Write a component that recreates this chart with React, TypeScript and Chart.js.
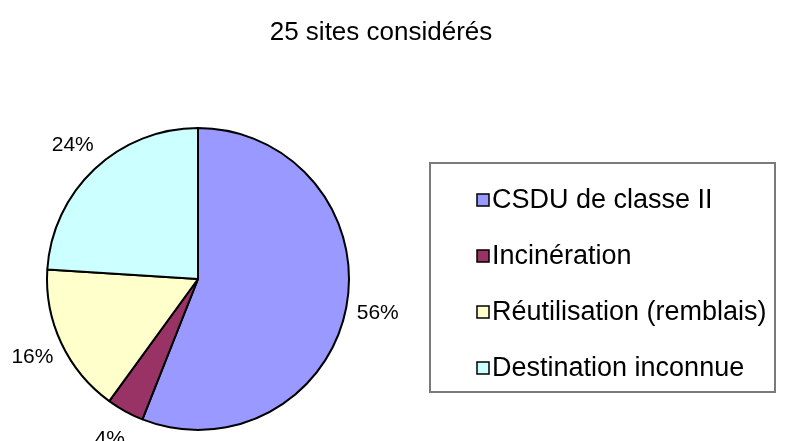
import React, { useEffect, useRef } from "react";
import { Chart, registerables } from "chart.js";

Chart.register(...registerables);

const TITLE = "25 sites considérés";
const CATEGORIES = [
  "CSDU de classe II",
  "Incinération",
  "Réutilisation (remblais)",
  "Destination inconnue",
];
const VALUES = [56, 4, 16, 24];
const COLORS = ["#9999FF", "#993366", "#FFFFCC", "#CCFFFF"];

const FONT = "'Liberation Sans', Arial, sans-serif";

const overlayPlugin = {
  id: "overlay",
  afterDraw(chart: any) {
    const ctx = chart.ctx as CanvasRenderingContext2D;
    ctx.save();
    // Title
    ctx.fillStyle = "#000";
    ctx.textAlign = "center";
    ctx.textBaseline = "middle";
    ctx.font = `26px ${FONT}`;
    ctx.fillText(TITLE, 381, 33);

    // Percentage labels
    const meta = chart.getDatasetMeta(0);
    const total = VALUES.reduce((a, b) => a + b, 0);
    ctx.font = `21px ${FONT}`;
    meta.data.forEach((arc: any, i: number) => {
      const p = arc.getProps(["x", "y", "startAngle", "endAngle", "outerRadius"], true);
      const mid = (p.startAngle + p.endAngle) / 2;
      const d = p.outerRadius + 32;
      const tx = p.x + Math.cos(mid) * d;
      const ty = p.y + Math.sin(mid) * d;
      const pct = Math.round((VALUES[i] / total) * 100) + "%";
      ctx.fillText(pct, tx, ty);
    });

    // Legend box
    const bx = 430, by = 163, bw = 345, bh = 229;
    ctx.strokeStyle = "#7a7a7a";
    ctx.lineWidth = 2;
    ctx.strokeRect(bx, by, bw, bh);
    ctx.textAlign = "left";
    ctx.font = `27px ${FONT}`;
    CATEGORIES.forEach((c, i) => {
      const cy = 200 + i * 56;
      ctx.fillStyle = COLORS[i];
      ctx.fillRect(477, cy - 6, 12, 12);
      ctx.strokeStyle = "#000";
      ctx.lineWidth = 1.5;
      ctx.strokeRect(477, cy - 6, 12, 12);
      ctx.fillStyle = "#000";
      ctx.fillText(c, 492, cy + 1);
    });
    ctx.restore();
  },
};

export default function App() {
  const ref = useRef<HTMLCanvasElement>(null);
  useEffect(() => {
    if (!ref.current) return;
    const chart = new Chart(ref.current, {
      type: "pie",
      data: {
        labels: CATEGORIES,
        datasets: [
          {
            data: VALUES,
            backgroundColor: COLORS,
            borderColor: "#000",
            borderWidth: 2,
          },
        ],
      },
      options: {
        responsive: false,
        animation: false,
        layout: { padding: { left: 46, right: 439, top: 127, bottom: 10 } },
        plugins: {
          legend: { display: false },
          title: { display: false },
          tooltip: { enabled: false },
        },
      },
      plugins: [overlayPlugin],
    });
    return () => chart.destroy();
  }, []);
  return (
    <div style={{ position: "fixed", left: 0, top: 0, width: 789, height: 441, background: "#fff" }}>
      <canvas ref={ref} width={789} height={441} style={{ width: 789, height: 441 }} />
    </div>
  );
}
